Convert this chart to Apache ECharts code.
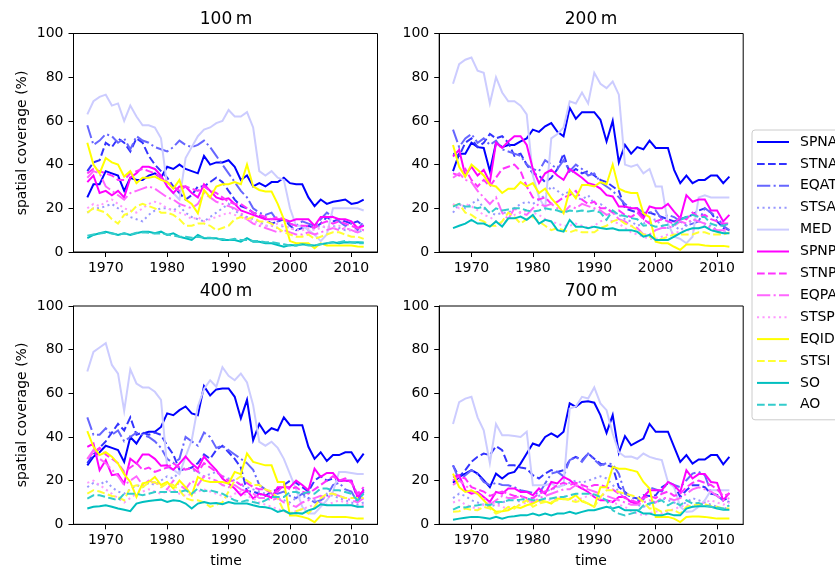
<!DOCTYPE html>
<html>
<head>
<meta charset="utf-8">
<script src="https://cdn.jsdelivr.net/npm/echarts@6/dist/echarts.min.js"></script>
<style>html,body{margin:0;padding:0;background:#fff;}#c{width:835px;height:571px;}</style>
</head>
<body>
<div id="c"></div>
<script>
const years = [1967,1968,1969,1970,1971,1972,1973,1974,1975,1976,1977,1978,1979,1980,1981,1982,1983,1984,1985,1986,1987,1988,1989,1990,1991,1992,1993,1994,1995,1996,1997,1998,1999,2000,2001,2002,2003,2004,2005,2006,2007,2008,2009,2010,2011,2012];
const xTicks = [1970,1980,1990,2000,2010];
const panelTitles = ['100\u2009m','200\u2009m','400\u2009m','700\u2009m'];
const seriesNames = ['SPNA','STNA','EQAT','STSA','MED','SPNP','STNP','EQPA','STSP','EQID','STSI','SO','AO'];

// ---- 100 m ----
const spna100 = [25,31,31,37,36,35,28,34,33,33,35,36,34,39,38,40,38,37,36,44,40,41,41,42,39,33,35,30,31.5,30,32,32,34,31.5,31,31,25,21,24,22,23,23.5,24,22,22.5,24];
const stna100 = [37,41,42,50,48,52,50,46,52,50,44,40,37,34,30,27,24,26,30,30,32,34,32,28,24,21,20,18,17,15,13,14,15,12,10,11,12,11,13,16,14,15,14,13,14,12];
const eqat100 = [58,49,51,54,53,50,52,47,53,51,50,48,47,46,48,51,49,48,49,51,48,44,40,36,32,28,25,20,18,17,18,14,15,13,12,14,13,12,15,18,16,14,12,13,10,14];
const stsa100 = [18,20,20,21,22,20,18,16,15,14,17,19,20,20,19,21,18,16,15,14,16,18,20,22,19,17,16,15,14,12,12,11,12,11,10,11,10,11,12,11,12,11,10,10,9,10];
const med100 = [63,69,71,72,67,68,60,67,62,58,58,57,52,30,27,24,43,48,53,56,57,59,60,65,62,62,64,57,37,35,37,34,33,20,12,12,10,8,5,8,20,20,20,20,20,19];
const spnp100 = [32,35,27,28,26,28,25,34,36,39,39,38,35,30,27,30,30,27,25,31,28,25,24,24.6,22,19,18,17,16,15,15,15,15,14,15,15,15,12,16,16,16,15,15,14,11,12];
const stnp100 = [36,38,37,36,35,33,33,36,37,38,37,36,34,32,30,28,30,29,28,30,28,27,25,23,22,22,20,18,17,16,15,16,15,13,12,12,12,11,13,14,13,14,13,12,11,10];
const eqpa100 = [34,37,36,30,28,26,24,27,28,29,30,29,27,25,24,22,21,20,22,27,25,23,22,21,20,18,15,13,12,11,10,9,10,9,8,8,9,8,9,10,11,10,11,10,9,10];
const stsp100 = [20,22,21,23,24,22,20,19,18,20,22,23,22,20,19,18,17,15,16,14,15,16,17,18,17,16,15,14,13,12,12,13,12,11,10,10,11,10,11,12,11,12,11,10,10,11];
const eqid100 = [50,40,36,43,41,40,34.5,37,31.5,34,34,34.5,33,32,29,33,24,22,17.7,28.4,25,30,31,31,32,31,40,30,28.4,27.7,27.7,22,15,5,4,4,4,1.7,4,3,3,3,3,3,2.5,2.4];
const stsi100 = [18,20,19,18,15,13,17,18,21,22,21,20,18,18,17,15,12,12,13,13,12,10,11,12,15,16,15,16,14,14,13,11,9,8,7,7,8,6,7,8,9,9,8,7,7,6];
const so100 = [6.3,7.8,8.6,9.3,8.6,7.8,8.6,7.8,8.6,9.3,9.3,8.6,9.3,7.8,8.6,7,6.3,5.5,7.8,6.3,6.3,6.3,5.5,5.5,5.5,4.7,6.3,4.7,4.7,4,4,3.2,2.4,3.2,3,3.5,3.2,3,3.5,4,4.5,4,4.5,4.3,4.5,4.3];
const ao100 = [7.5,8,8.5,8.8,8.5,8,8.5,8,8.8,9,8.8,8.5,8.5,8,7.5,7,7,6.5,7,6.5,6.5,6,6,5.5,6,5.5,5.5,5,5,4.5,4.5,4,3.5,3,3,3.5,3,3,3.5,4,4.5,4.5,5,4.5,4,4];

// ---- 200 m ----
const spna200 = [37,45,45,50,48,47.6,37,50,48,49,49,50.6,52,56,55,57.5,59,55,53,66,61,64,64,64,60.5,50.6,60,41,49,45,48,47,51,47.6,47.6,47.6,37.6,31.5,35,31.5,33,33,35,35,31.5,34.5];
const stna200 = [45,44,50,52,48,50,54,52,53,50,44,45,40,36,35,32,34,38,45,36,38,36,37,35,33,32,30,28,20,19,18,17,18,17,16,15,14,15,16,17,19,20,18,14,11,10];
const eqat200 = [56,48,52,54,50,52,49,51,47,46,45,44,40,38,37,42,40,38,42,37,40,38,35,36,32,30,28,25,22,20,20,18,18,19,15,17,16,14,12,13,14,20,18,16,12,10];
const stsa200 = [18,22,20,22,24,20,18,17,18,18,20,22,23,22,24,26,30,28,26,28,25,24,26,22,22,20,18,17,15,14,12,13,14,15,12,11,12,10,12,15,14,13,12,10,9,10];
const med200 = [77,86,88,89,83,82,68,80,73,69,69,67,63,35,25,20,52,54,57,69,68,73,68,82,77,75,78,72,40,39,40,36,38,30,30,13,7,6,4,7,25,26,25,25,25,25];
const spnp200 = [43.7,46.8,35,39,35,37.6,32,50,47.6,50.6,53,53,49,38,31.5,36,37.6,35,33,38,36,34,31.5,30.7,29,26,25.4,20.8,20.8,20,20,15.4,20.8,20,20,22,18.5,15.4,26,23,24,24,19,19,14,17];
const stnp200 = [36,35,38,33,30,33,30,34,38,39,40,37,30,25,24,25,22,23,25,26,28,24,22,23,20,20,18,19,17,16,18,15,13,14,15,14,13,16,15,18,16,17,15,14,13,13];
const eqpa200 = [34,36,33,32,28,25,22,25,18,15,20,18,17,20,22,21,22,20,18,21,20,22,21,20,19,17,18,15,14,12,11,8,8,10,11,11,12,14,13,15,14,13,11,10,10,11];
const stsp200 = [22,20,22,21,19,17,16,14,13,15,17,18,19,18,17,15,14,13,12,12,13,12,11,12,14,15,14,13,11,9,8,7,6,6,7,8,9,9,10,10,11,12,10,9,9,9];
const eqid200 = [49,39,34.5,40,37.6,35,30.7,30,27,29,29,32,30,31.5,27,29,24.6,21.5,17.7,28.4,24.6,30.7,30.7,30,32,31,40,29,27.7,27,27,17.7,16,4.7,4,4,2.4,1,3.4,3.4,3.4,3,2.8,2.8,2.8,2.4];
const stsi200 = [21,22,18,17,15,14,12,12,14,18,16,13,15,16,14,12,10,11,10,9,10,9,9,9,11,12,14,15,13,12,10,8,7,6,6,7,8,8,8,8,9,9,8,8,8,9];
const so200 = [10.9,12,13,14.7,13,13,11.6,14,11.6,15.4,15.4,16.2,14.7,17,13,14.7,14,10,9.3,14.7,11.6,11.6,10.9,11.6,11,10.5,10.9,10,10,10,9.3,7,7.8,5.5,5.5,5.5,7,8.6,10,10.9,10.9,11.6,10,9.3,8.6,8.6];
const ao200 = [20.8,22,20.8,20.8,20,20.8,17.7,20,19,19.5,20,20,19,18.5,19,20,19.5,19,18,19,18.5,19,18.5,19,18,14.7,19,17,16.5,15.5,15,12,12.5,11.6,12,12.5,12.5,14.7,16,17,16,16,13,12,12,13];

// ---- 400 m ----
const spna400 = [27,31,33,36,35,34,28.6,40,37,41.6,42.4,42.4,44.6,50.8,50,52.3,54,50.8,50,63.3,59,61.8,62.2,62.2,58.4,48.5,57,38.5,46,41.6,44,43,49,45.4,45.4,45.4,35.5,30,33,29,31.7,31.7,33,33,28.6,32.4];
const stna400 = [28,32,35,38,42,46,43,49,41,42,41,42,41,36,32,25,25,26,28,32,30,34,36,33,30,26,15,15,14,13,15,16,18,20,19,17,15,20,22,20,21,20,20,20,12,16];
const eqat400 = [49,41,41,44,41,43,38,40,42,41,40,38,35,30,28,30,40,38,36,42,40,35,36,34,32,30,28,25,18,16,15,14,15,13,12,14,12,10,11,13,18,19,16,15,10,15];
const stsa400 = [17,19,18,20,17,15,14,16,18,17,19,18,20,22,21,24,26,25,24,22,23,24,22,21,20,18,17,16,15,14,13,12,11,10,12,13,12,11,10,14,13,12,11,10,9,10];
const med400 = [70,79,81,83,73,69,52,71,64.5,62.7,62.7,60.7,57,26,25,23,31,38.5,54,62,66,63,72,68,66,69,65,54.6,37.8,36,37.8,35,30,23,16,8,5,5,8,11,15,24,24,23.5,23,23];
const spnp400 = [35.5,37,24.8,29.4,22.5,23,18.7,30,27.8,32,32,30,26.8,27,25,27.8,31,27.8,25.5,31,27.8,24.8,21,18.7,16.4,13.3,15.6,11.8,14,13.3,12.2,17,17,17,20,18,15.6,25.5,21.7,23.5,23.5,20,20,20,12.5,15.6];
const stnp400 = [30,33,35,32,30,28,24,26,28,25,26,24,25,26,28,26,25,26,24,28,26,24,22,20,20,18,19,17,16,16,14,15,18,16,17,15,14,16,18,20,22,20,21,19,14,17];
const eqpa400 = [30,34,30,28,25,22,18,20,22,18,20,19,18,16,20,18,16,20,18,22,21,20,18,17,18,16,15,14,12,12,11,12,10,9,8,10,11,12,13,12,14,13,12,11,10,12];
const stsp400 = [19,20,18,16,14,12,10,12,14,15,16,15,14,15,16,14,13,14,15,16,15,14,13,12,14,15,13,12,10,9,8,7,6,5,6,7,8,9,10,9,10,11,10,9,8,9];
const eqid400 = [42.7,35.5,31.7,33,31,27.8,23,19.4,12.5,18.7,19.4,21.7,18,19.4,16.4,20,17,13.3,21.7,20,19.4,19.4,19.4,18.7,24,23,32.4,28.6,27.8,27,27,19.4,19.4,4,4,3.4,2.6,1,4,3.5,3.4,3.4,3.4,3,2.6,2.6];
const stsi400 = [14,15.6,15,14,13,12.5,11,17,17.9,17,19,19.4,17,18.7,18,15.6,12,11,11,10,8,9,10,15,20,22,20,18,18,16,15,12,6,5,6,7,5,8,12,14,14,13,12,12,12,12];
const so400 = [7.2,8,8.3,8.7,8,7.2,6.7,6,9.5,10.2,10.7,11,11.3,10.2,11,10.7,9.5,7.2,9.5,10.2,9.5,9.8,9.2,10.2,9.5,9.5,9.5,8.7,8,7.8,7.2,5.7,6.4,4.9,5.2,4.9,6.4,7.2,9.2,8.7,8.7,8.7,8.7,8.7,8,8];
const ao400 = [11.8,13.3,13.3,12.5,11.8,11,14,14,14,13.3,14,14.8,14.8,14.8,14.8,14.8,15.6,14,16.4,15.2,15.6,14.8,14,12.5,11,10.2,11,10.2,9.5,11,12.5,12.5,12.5,14.8,14.8,14,14.8,14,16.4,16.4,15.6,15.6,14.8,14,11,14];

// ---- 700 m ----
const spna700 = [19,21.7,23.2,24.8,23.2,20.2,17,23.2,21,23.2,24,27.8,32.4,37,36,40,41.6,40,42.4,55.4,53.8,56,56.4,55.7,50,41.9,50,32.7,40.4,36.2,37.8,39.3,46,42.4,42.4,42.4,35.5,28.6,31.7,27.8,29.7,29.7,31.7,31.7,27.5,30.9];
const stna700 = [27,21.7,24.8,28.6,30.9,32.4,31.7,35.8,34,27,27,26,25.5,22.5,21,23.2,24.8,24,24.8,29.4,30.9,29.4,32.4,30,27.8,27,26.3,17,14.8,12.5,11.8,13.3,13,13.3,17,18.7,18,12.5,15.6,17.9,17.9,17,14,13.5,11,12.5];
const eqat700 = [27,20,22.5,24.8,23,19.4,17.9,19,18,17.9,17,15.6,15,14.4,14,18.7,23.2,24,22,29.4,30.9,28.6,32.4,29.7,27,28,27.5,23.2,14,12.5,11,11.3,17,16,15,19.4,18,17,20.2,23.2,24,22.5,14.8,13,11,10.2];
const stsa700 = [12,14,13,11,10,9,8,9,10,11,12,10,11,12,13,15,16,17,18,19,20,19,20,21,22,21,18,15,12,10,9,8,9,10,12,11,10,9,10,12,11,10,9,8,7,8];
const med700 = [45.9,56,57.6,58.4,49,43,28,45.9,40.8,40.8,40.4,40,42.4,17.9,17.9,17.9,18.7,17,17.9,53,54,58.4,57.6,62.7,55.4,52.3,41.6,33,30.9,31,30,32.4,30.9,30,29.4,19.4,17,8,5.7,6,8,11,15.6,15.6,15.6,15.6];
const spnp700 = [21.7,22.5,15.6,14,14.8,12.5,10.2,14.8,14,16.4,16.4,14.8,14.8,13.3,16.4,14,19.4,18.7,21.7,20.2,17.9,16.4,14.8,12.5,11,11,10.2,12.5,12.5,10.2,9.5,12.5,15.6,15.6,15.6,19.4,17.9,14.8,24.8,21,23,23,19.4,19,11,14.4];
const stnp700 = [20,22,21,17,16,15,13,14,15,14,13,13,12,12,14,15,16,18,19,18,19,18,17,18,18,17,16,14,12,11,10,12,13,12,14,15,13,14,17,19,20,19,18,16,13,14];
const eqpa700 = [18,20,18,15,14,12,9,11,13,12,12,13,11,10,12,13,14,15,16,16,18,17,16,15,14,13,12,11,10,9,9,10,11,10,12,12,11,12,14,16,17,16,15,13,11,12];
const stsp700 = [10,11,9,8,7,9,10,9,8,7,8,9,10,11,10,12,11,12,13,12,11,12,13,14,12,11,10,9,8,6,5,4,5,6,5,6,7,8,9,8,9,10,11,10,9,10];
const eqid700 = [23.2,17,14.8,15.6,14,11,8,5.7,6,6.4,8,7.5,8.7,9.5,11,10.5,9.5,11.8,11.5,11.5,13.3,10.5,9.5,8,17,17,26.3,25.5,25.5,24.8,24,19.4,16.4,3.4,3.4,3.4,2.6,1,3.4,3.6,3.6,3.4,3,2.6,2.6,2.6];
const stsi700 = [5.7,6,7.2,6.6,6.4,8,7.2,4.9,6,8,7.2,9.5,11,8,9.5,10.2,10.2,11,11.8,11,10.2,11,9.5,8,12.5,15.6,15.6,14.8,14,13.3,12.5,10.2,7.2,7.2,5.7,6.4,6.4,4.9,8,8.7,9.2,9.2,8.3,8,7.2,7.2];
const so700 = [2.1,2.6,3,3.4,3.4,3,2.6,3.4,2.6,3.4,3.7,4.1,4.1,4.9,4.1,4.9,4.1,4.9,4.9,5.7,4.9,5.7,6.4,6.4,7.2,8,7.2,8,6.4,6.4,6.4,4.9,4.9,4.1,4.1,4.9,4.1,4.1,7.2,8,8.3,8.3,8,7.2,6.7,6.7];
const ao700 = [6.7,8,7.7,8.3,8.7,9.2,8.7,10.2,10.2,11,11,11.3,11.8,11,11,11.8,11.8,12.5,12.5,13.3,14,14,14,13.7,12.5,11,6.4,4.9,4.1,4.9,5.7,8.7,9.5,10.2,11,8.7,10.2,8.7,11,9.5,9.8,8.7,8,7.7,7.2,8.7];

const panels = [
  [spna100,stna100,eqat100,stsa100,med100,spnp100,stnp100,eqpa100,stsp100,eqid100,stsi100,so100,ao100],
  [spna200,stna200,eqat200,stsa200,med200,spnp200,stnp200,eqpa200,stsp200,eqid200,stsi200,so200,ao200],
  [spna400,stna400,eqat400,stsa400,med400,spnp400,stnp400,eqpa400,stsp400,eqid400,stsi400,so400,ao400],
  [spna700,stna700,eqat700,stsa700,med700,spnp700,stnp700,eqpa700,stsp700,eqid700,stsi700,so700,ao700]
];

// styles
const colors = ['#0000ff','#3333ff','#6666ff','#9999ff','#ccccff','#ff00ff','#ff33ff','#ff66ff','#ff99ff','#ffff00','#ffff33','#00bfbf','#33cccc'];
const DASH = [7.7,3.3], DASHDOT = [13.3,3.3,2.1,3.3], DOT = [2.1,3.4];
const dashes = ['solid',DASH,DASHDOT,DOT,'solid','solid',DASH,DASHDOT,DOT,'solid',DASH,'solid',DASH];

const FONT = 'DejaVu Sans';
const gridPos = [
  {left:73.5, top:33.5, width:304, height:218.5},
  {left:439.2, top:33.5, width:304, height:218.5},
  {left:73.5, top:306, width:304, height:218.3},
  {left:439.2, top:306, width:304, height:218.3}
];

const grids = gridPos.map(g => Object.assign({show:true, borderColor:'#000', borderWidth:1, backgroundColor:'transparent', containLabel:false}, g));
const xAxes = gridPos.map((g,i) => ({
  type:'value', gridIndex:i, min:1964.75, max:2014.25,
  axisLine:{show:true, onZero:false, lineStyle:{color:'#000', width:1}},
  axisTick:{show:true, length:5, lineStyle:{color:'#000', width:1}, customValues:xTicks},
  axisLabel:{show:true, color:'#000', fontFamily:FONT, fontSize:14, margin:9, customValues:xTicks, formatter: v => String(v)},
  splitLine:{show:false}
}));
const yAxes = gridPos.map((g,i) => ({
  type:'value', gridIndex:i, min:0, max:100, interval:20,
  axisLine:{show:true, onZero:false, lineStyle:{color:'#000', width:1}},
  axisTick:{show:true, length:5, lineStyle:{color:'#000', width:1}},
  axisLabel:{show:true, color:'#000', fontFamily:FONT, fontSize:14, margin:10, formatter: v => String(v)},
  splitLine:{show:false}
}));

const series = [];
panels.forEach((pdata, p) => {
  pdata.forEach((vals, k) => {
    series.push({
      type:'line', name:seriesNames[k], xAxisIndex:p, yAxisIndex:p,
      data: years.map((y, j) => [y, vals[j]]),
      symbol:'none', showSymbol:false, smooth:false, animation:false,
      lineStyle:{color:colors[k], width:2, type:dashes[k], cap:'butt', join:'miter'},
      itemStyle:{color:colors[k]},
      emphasis:{disabled:true}
    });
  });
});

const titleText = (txt, x, y) => ({type:'text', x:x, y:y, style:{text:txt, fill:'#000', font:'17px "DejaVu Sans"', align:'center', verticalAlign:'middle'}});
const graphics = [
  titleText(panelTitles[0], 226, 20),
  titleText(panelTitles[1], 591, 20),
  titleText(panelTitles[2], 226, 292),
  titleText(panelTitles[3], 591, 292),
  {type:'text', x:22, y:143, rotation:Math.PI/2, style:{text:'spatial coverage (%)', fill:'#000', font:'14px "DejaVu Sans"', align:'center', verticalAlign:'middle'}},
  {type:'text', x:22, y:415, rotation:Math.PI/2, style:{text:'spatial coverage (%)', fill:'#000', font:'14px "DejaVu Sans"', align:'center', verticalAlign:'middle'}},
  {type:'text', x:226, y:561, style:{text:'time', fill:'#000', font:'14px "DejaVu Sans"', align:'center', verticalAlign:'middle'}},
  {type:'text', x:591, y:561, style:{text:'time', fill:'#000', font:'14px "DejaVu Sans"', align:'center', verticalAlign:'middle'}}
];

const chart = echarts.init(document.getElementById('c'), null, {renderer:'canvas', width:835, height:571});
chart.setOption({
  animation:false,
  backgroundColor:'#fff',
  grid: grids,
  xAxis: xAxes,
  yAxis: yAxes,
  legend: {
    show:true, orient:'vertical', left:752, top:130,
    data: seriesNames,
    selectedMode:false,
    itemWidth:32, itemHeight:14, itemGap:7.9,
    padding:[5,6,8,4],
    itemStyle:{opacity:0},
    backgroundColor:'#fff', borderColor:'#cccccc', borderWidth:1, borderRadius:3,
    textStyle:{color:'#000', fontFamily:FONT, fontSize:14, lineHeight:14, padding:[0,0,0,6]}
  },
  graphic: graphics,
  series: series
});
</script>
</body>
</html>
